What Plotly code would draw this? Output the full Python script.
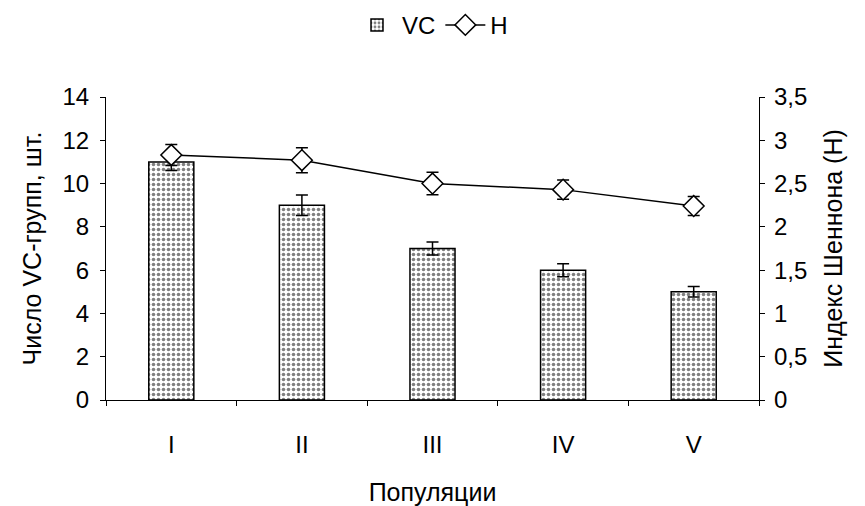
import plotly.graph_objects as go

categories = ["I", "II", "III", "IV", "V"]
vc_values = [11, 9, 7, 6, 5]
vc_errors = [0.4, 0.47, 0.3, 0.3, 0.24]
h_values = [2.83, 2.77, 2.5, 2.43, 2.24]
h_errors = [0.12, 0.145, 0.13, 0.11, 0.11]

FONT = "Liberation Sans, Arial, sans-serif"
TICK_SIZE = 24
TITLE_SIZE = 25

fig = go.Figure()
fig.add_trace(go.Bar(
    x=categories, y=vc_values, name="VC",
    marker=dict(color="white", line=dict(color="black", width=1.5),
                pattern=dict(shape=".", fgcolor="black", bgcolor="white",
                             size=5, solidity=0.4, fillmode="overlay")),
    error_y=dict(type="data", array=vc_errors, color="black", thickness=1.5, width=6),
    width=0.345, yaxis="y",
))
fig.add_trace(go.Scatter(
    x=categories, y=h_values, name="H", mode="lines+markers",
    line=dict(color="black", width=1.5),
    marker=dict(symbol="diamond", size=16, color="white",
                line=dict(color="black", width=1.5)),
    error_y=dict(type="data", array=h_errors, color="black", thickness=1.5, width=6),
    yaxis="y2",
))

axis_common = dict(showgrid=False, zeroline=False, linecolor="black", linewidth=1.2,
                   tickcolor="black", tickwidth=1.2, ticklen=5, automargin=False,
                   tickfont=dict(family=FONT, size=TICK_SIZE, color="black"))

fig.update_layout(
    width=865, height=506,
    margin=dict(l=106, r=106, t=97, b=106, autoexpand=False),
    paper_bgcolor="white", plot_bgcolor="white",
    separators=", ",
    showlegend=True,
    legend=dict(orientation="h", x=0.5, xanchor="center", xref="paper",
                y=0.95, yref="container", yanchor="middle",
                font=dict(family=FONT, size=TICK_SIZE, color="black"),
                itemwidth=40, tracegroupgap=0),
    xaxis=dict(type="category", range=[-0.5, 4.5], showline=True, ticks="outside",
               tickson="boundaries", ticklabelstandoff=23,
               title=dict(text="Популяции", font=dict(family=FONT, size=TITLE_SIZE, color="black"),
                          standoff=27),
               **axis_common),
    xaxis2=dict(overlaying="x", anchor="y", side="bottom", range=[-0.5, 4.5],
                tickvals=[0.5, 1.5, 2.5, 3.5], ticks="inside", showticklabels=False,
                showline=False, showgrid=False, zeroline=False, automargin=False,
                tickcolor="black", tickwidth=1.2, ticklen=5),
    yaxis=dict(range=[0, 14], dtick=2, showline=True, ticks="outside",
               ticklabelstandoff=6,
               title=dict(text="Число VC-групп, шт.", font=dict(family=FONT, size=TITLE_SIZE, color="black"),
                          standoff=13),
               **axis_common),
    yaxis2=dict(range=[0, 3.5], dtick=0.5, overlaying="y", side="right", anchor="x",
                showline=True, ticks="outside", ticklabelstandoff=4,
                title=dict(text="Индекс Шеннона (H)", font=dict(family=FONT, size=TITLE_SIZE, color="black"),
                           standoff=18),
                **axis_common),
    yaxis3=dict(range=[0, 14], dtick=2, overlaying="y", side="left", anchor="x",
                ticks="inside", showticklabels=False, showline=False, showgrid=False,
                zeroline=False, automargin=False, tickcolor="black", tickwidth=1.2, ticklen=5),
    yaxis4=dict(range=[0, 3.5], dtick=0.5, overlaying="y", side="right", anchor="x",
                ticks="inside", showticklabels=False, showline=False, showgrid=False,
                zeroline=False, automargin=False, tickcolor="black", tickwidth=1.2, ticklen=5),
)

fig.write_html("out.html")
